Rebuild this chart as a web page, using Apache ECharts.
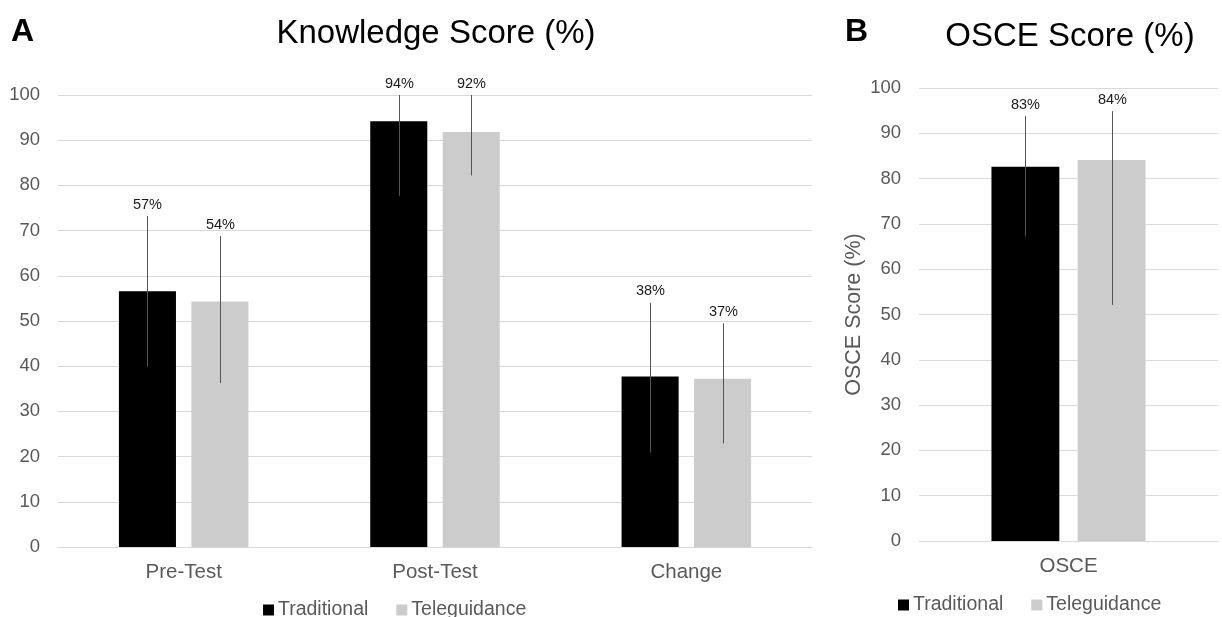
<!DOCTYPE html>
<html>
<head>
<meta charset="utf-8">
<script src="https://cdn.jsdelivr.net/npm/echarts@6/dist/echarts.min.js"></script>
<style>
  html, body { margin: 0; padding: 0; background: #ffffff; }
  #chart { width: 1222px; height: 617px; }
</style>
</head>
<body>
<div id="chart"></div>
<script>
// Knowledge scores (%) by test phase
const knowledgeCategories = ['Pre-Test', 'Post-Test', 'Change'];
const knowledgeTraditional = [56.6, 94.2, 37.7];
const knowledgeTeleguidance = [54.3, 91.8, 37.2];
const knowledgeTraditionalLow = [39.9, 77.7, 20.9];
const knowledgeTraditionalHigh = [73.2, 110.7, 54.0];
const knowledgeTeleguidanceLow = [36.3, 82.2, 22.9];
const knowledgeTeleguidanceHigh = [68.8, 101.4, 49.5];

// OSCE scores (%)
const osceCategories = ['OSCE'];
const osceTraditional = [82.6];
const osceTeleguidance = [84.1];
const osceTraditionalLow = [67.3];
const osceTraditionalHigh = [93.8];
const osceTeleguidanceLow = [52.1];
const osceTeleguidanceHigh = [94.9];

const groupNames = ['Traditional', 'Teleguidance'];
const yMin = 0;
const yMax = 100;
const yInterval = 10;

const FONT = "'Liberation Sans', Arial, Helvetica, sans-serif";
const GREY_TEXT = '#595959';
const GRID_LINE = '#d9d9d9';
const BAR_W = 0.227;
const BAR_GAP = 0.27;

// error bar with the mean printed above its upper end
function errorSeries(id, axisIndex, low, high, mean, side) {
  return {
    type: 'custom',
    id: id,
    xAxisIndex: axisIndex,
    yAxisIndex: axisIndex,
    z: 5,
    silent: true,
    data: low.map((l, i) => [i, l, high[i], mean[i]]),
    renderItem(params, api) {
      const i = api.value(0);
      const band = api.size([1, 0])[0];
      const bw = band * BAR_W;
      const gap = bw * BAR_GAP;
      const off = side * (gap / 2 + bw / 2);
      const top = Math.min(api.value(2), yMax);
      const pLow = api.coord([i, api.value(1)]);
      const pHigh = api.coord([i, top]);
      const x = Math.round(pLow[0] + off) + 0.5;
      return {
        type: 'group',
        children: [
          {
            type: 'line',
            shape: { x1: x, y1: pLow[1], x2: x, y2: pHigh[1] },
            style: { stroke: '#555555', lineWidth: 1 }
          },
          {
            type: 'text',
            style: {
              text: Math.round(api.value(3)) + '%',
              x: x,
              y: pHigh[1] - 4,
              align: 'center',
              verticalAlign: 'bottom',
              fontFamily: FONT,
              fontSize: 14.5,
              fill: '#1a1a1a'
            }
          }
        ]
      };
    }
  };
}

function categoryAxis(gridIndex, data) {
  return {
    type: 'category',
    gridIndex: gridIndex,
    data: data,
    axisLine: { show: true, lineStyle: { color: GRID_LINE, width: 1 } },
    axisTick: { show: false },
    axisLabel: { color: GREY_TEXT, fontFamily: FONT, fontSize: 20.5, margin: 15 }
  };
}

function valueAxis(gridIndex, extra) {
  return Object.assign({
    type: 'value',
    gridIndex: gridIndex,
    min: yMin,
    max: yMax,
    interval: yInterval,
    axisLine: { show: false },
    axisTick: { show: false },
    axisLabel: { color: GREY_TEXT, fontFamily: FONT, fontSize: 18.5, margin: 18 },
    splitLine: { lineStyle: { color: GRID_LINE, width: 1 } }
  }, extra || {});
}

function barSeries(name, axisIndex, data, color) {
  return {
    type: 'bar',
    name: name,
    xAxisIndex: axisIndex,
    yAxisIndex: axisIndex,
    data: data,
    barWidth: (BAR_W * 100) + '%',
    barGap: (BAR_GAP * 100) + '%',
    itemStyle: { color: color },
    emphasis: { disabled: true }
  };
}

const legendCommon = {
  data: groupNames,
  icon: 'rect',
  itemWidth: 11,
  itemHeight: 11,
  itemGap: 28,
  textStyle: { color: GREY_TEXT, fontFamily: FONT, fontSize: 19.5, padding: [0, 0, 0, -1] },
  selectedMode: false
};

const chart = echarts.init(document.getElementById('chart'), null, { renderer: 'canvas' });

chart.setOption({
  animation: false,
  backgroundColor: '#ffffff',
  graphic: [
    { type: 'text', left: 11, top: 16, style: { text: 'A', fontFamily: FONT, fontSize: 32, fontWeight: 'bold', fill: '#000' } },
    { type: 'text', x: 436, y: 34, style: { text: 'Knowledge Score (%)', align: 'center', verticalAlign: 'middle', fontFamily: FONT, fontSize: 33, fill: '#000' } },
    { type: 'text', left: 845, top: 16, style: { text: 'B', fontFamily: FONT, fontSize: 32, fontWeight: 'bold', fill: '#000' } },
    { type: 'text', x: 1070, y: 37, style: { text: 'OSCE Score (%)', align: 'center', verticalAlign: 'middle', fontFamily: FONT, fontSize: 33, fill: '#000' } }
  ],
  legend: [
    Object.assign({ left: 258, top: 595 }, legendCommon),
    Object.assign({ left: 893, top: 590 }, legendCommon)
  ],
  grid: [
    { left: 58, top: 95, width: 754, height: 452 },
    { left: 919, top: 88, width: 299, height: 453 }
  ],
  xAxis: [categoryAxis(0, knowledgeCategories), categoryAxis(1, osceCategories)],
  yAxis: [
    valueAxis(0),
    valueAxis(1, {
      name: 'OSCE Score (%)',
      nameLocation: 'middle',
      nameRotate: 90,
      nameGap: 54,
      nameTextStyle: { color: GREY_TEXT, fontFamily: FONT, fontSize: 21.5 }
    })
  ],
  series: [
    barSeries(groupNames[0], 0, knowledgeTraditional, '#000000'),
    barSeries(groupNames[1], 0, knowledgeTeleguidance, '#cccccc'),
    barSeries(groupNames[0], 1, osceTraditional, '#000000'),
    barSeries(groupNames[1], 1, osceTeleguidance, '#cccccc'),
    errorSeries('errKnowTrad', 0, knowledgeTraditionalLow, knowledgeTraditionalHigh, knowledgeTraditional, -1),
    errorSeries('errKnowTele', 0, knowledgeTeleguidanceLow, knowledgeTeleguidanceHigh, knowledgeTeleguidance, 1),
    errorSeries('errOsceTrad', 1, osceTraditionalLow, osceTraditionalHigh, osceTraditional, -1),
    errorSeries('errOsceTele', 1, osceTeleguidanceLow, osceTeleguidanceHigh, osceTeleguidance, 1)
  ]
});
</script>
</body>
</html>
